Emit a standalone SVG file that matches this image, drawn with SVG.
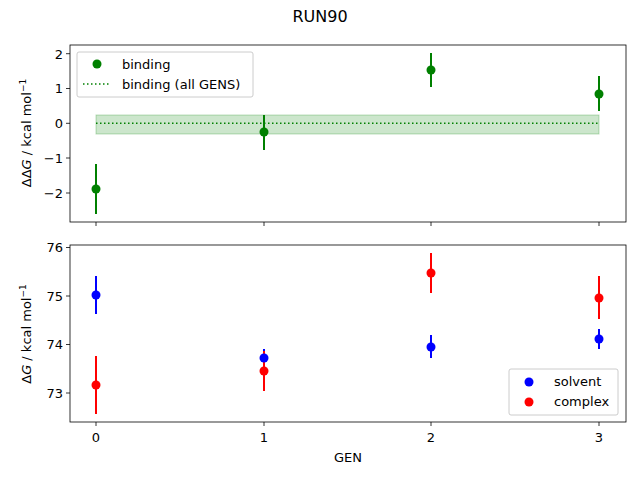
<svg xmlns="http://www.w3.org/2000/svg" width="640" height="480" viewBox="0 0 640 480">
<style>
text{font-family:"DejaVu Sans",sans-serif;font-size:13px;fill:#000}
.ax{fill:none;stroke:#000;stroke-width:0.8}
.g{stroke:#008000;stroke-width:2}
.b{stroke:#0000ff;stroke-width:2}
.r{stroke:#ff0000;stroke-width:2}
.t{stroke:#000;stroke-width:0.8}
</style>
<rect width="640" height="480" fill="#fff"/>
<text x="320" y="22" text-anchor="middle" style="font-size:16px">RUN90</text>
<g id="top">
<rect x="96" y="115" width="503" height="19" fill="#008000" fill-opacity="0.2" stroke="#008000" stroke-opacity="0.25" stroke-width="1"/>
<line x1="96" y1="123.3" x2="599" y2="123.3" stroke="#008000" stroke-width="1.5" stroke-dasharray="1.5,2.5"/>
<g id="errtop">
<line class="g" x1="96" y1="164" x2="96" y2="214"/>
<line class="g" x1="264" y1="115" x2="264" y2="150"/>
<line class="g" x1="431" y1="53" x2="431" y2="87"/>
<line class="g" x1="599" y1="76" x2="599" y2="111"/>
</g>
<g fill="#008000">
<circle cx="96" cy="189" r="4.5"/><circle cx="264" cy="132" r="4.5"/><circle cx="431" cy="70" r="4.5"/><circle cx="599" cy="94" r="4.5"/>
</g>
<rect class="ax" x="70" y="45" width="556" height="177"/>
<g class="t">
<line x1="66" y1="53.7" x2="70" y2="53.7"/><line x1="66" y1="88.5" x2="70" y2="88.5"/><line x1="66" y1="123.3" x2="70" y2="123.3"/><line x1="66" y1="158" x2="70" y2="158"/><line x1="66" y1="193" x2="70" y2="193"/>
<line x1="96" y1="222" x2="96" y2="226"/><line x1="264" y1="222" x2="264" y2="226"/><line x1="431" y1="222" x2="431" y2="226"/><line x1="599" y1="222" x2="599" y2="226"/>
</g>
<g text-anchor="end">
<text x="63" y="58.5">2</text><text x="63" y="93.3">1</text><text x="63" y="128">0</text><text x="63" y="163">−1</text><text x="63" y="198">−2</text>
</g>
<text transform="translate(31,133) rotate(-90)" text-anchor="middle">ΔΔ<tspan font-style="italic">G</tspan> / kcal mol<tspan dy="-5" style="font-size:9px">−1</tspan></text>
<g id="legtop">
<rect x="77" y="52" width="176" height="45" rx="2" fill="#fff" fill-opacity="0.8" stroke="#ccc"/>
<circle cx="97" cy="64" r="4.5" fill="#008000"/>
<text x="122" y="69">binding</text>
<line x1="83" y1="84" x2="111" y2="84" stroke="#008000" stroke-width="1.5" stroke-dasharray="1.5,2.5"/>
<text x="122" y="89">binding (all GENS)</text>
</g>
</g>
<g id="bottom">
<g id="errbot">
<line class="b" x1="96" y1="276" x2="96" y2="314"/>
<line class="b" x1="264" y1="349" x2="264" y2="367"/>
<line class="b" x1="431" y1="335" x2="431" y2="358"/>
<line class="b" x1="599" y1="329" x2="599" y2="349"/>
<line class="r" x1="96" y1="356" x2="96" y2="414"/>
<line class="r" x1="264" y1="351" x2="264" y2="391"/>
<line class="r" x1="431" y1="253" x2="431" y2="293"/>
<line class="r" x1="599" y1="276" x2="599" y2="319"/>
</g>
<g fill="#0000ff"><circle cx="96" cy="295" r="4.5"/><circle cx="264" cy="358" r="4.5"/><circle cx="431" cy="347" r="4.5"/><circle cx="599" cy="339" r="4.5"/></g>
<g fill="#ff0000"><circle cx="96" cy="385" r="4.5"/><circle cx="264" cy="371" r="4.5"/><circle cx="431" cy="273" r="4.5"/><circle cx="599" cy="298" r="4.5"/></g>
<rect class="ax" x="70" y="245" width="556" height="177"/>
<g class="t">
<line x1="66" y1="247.5" x2="70" y2="247.5"/><line x1="66" y1="296" x2="70" y2="296"/><line x1="66" y1="344.5" x2="70" y2="344.5"/><line x1="66" y1="393" x2="70" y2="393"/>
<line x1="96" y1="422" x2="96" y2="426"/><line x1="264" y1="422" x2="264" y2="426"/><line x1="431" y1="422" x2="431" y2="426"/><line x1="599" y1="422" x2="599" y2="426"/>
</g>
<g text-anchor="end">
<text x="63" y="252.3">76</text><text x="63" y="301">75</text><text x="63" y="349.3">74</text><text x="63" y="398">73</text>
</g>
<g text-anchor="middle">
<text x="96" y="442">0</text><text x="264" y="442">1</text><text x="431" y="442">2</text><text x="599" y="442">3</text>
<text x="348" y="462">GEN</text>
</g>
<text transform="translate(31,334) rotate(-90)" text-anchor="middle">Δ<tspan font-style="italic">G</tspan> / kcal mol<tspan dy="-5" style="font-size:9px">−1</tspan></text>
<g id="legbot">
<rect x="509" y="369" width="109" height="46" rx="2" fill="#fff" fill-opacity="0.8" stroke="#ccc"/>
<circle cx="529" cy="382" r="4.5" fill="#0000ff"/><text x="554" y="386">solvent</text>
<circle cx="529" cy="402" r="4.5" fill="#ff0000"/><text x="554" y="406">complex</text>
</g>
</g>
</svg>
